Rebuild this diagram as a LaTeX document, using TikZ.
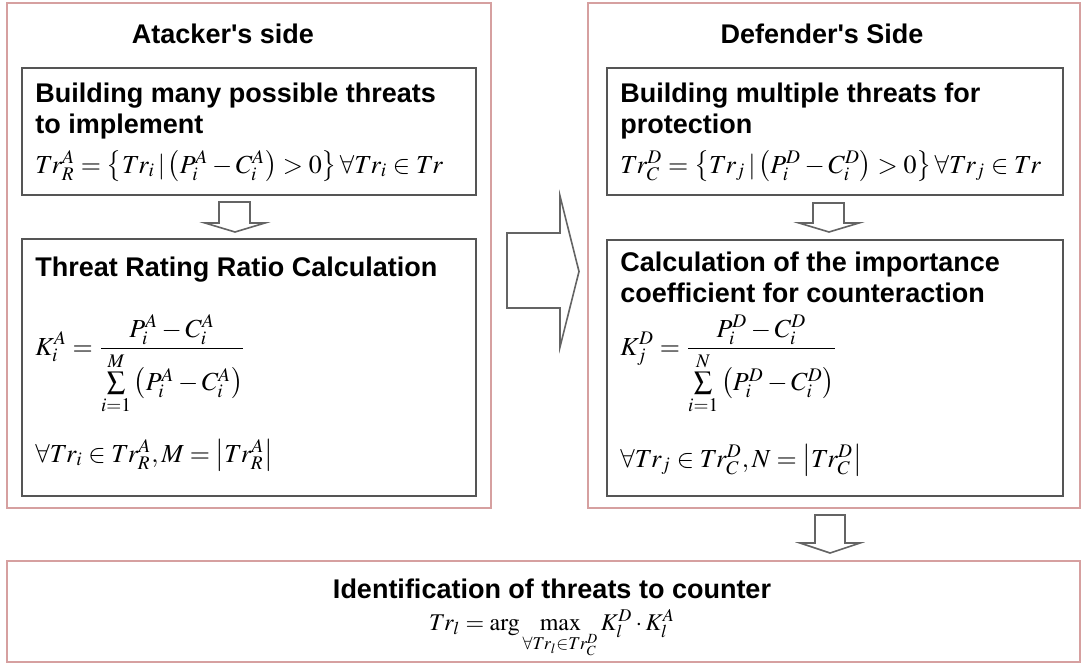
\documentclass[tikz,border=0pt]{standalone}
\usepackage{mathptmx}
\usepackage[no-math]{fontspec}
\setmainfont{Liberation Sans}
\definecolor{outerc}{RGB}{214,160,160}
\definecolor{innerc}{RGB}{85,85,85}
\definecolor{arrowc}{RGB}{100,100,100}
\tikzset{
  outerbox/.style={draw=outerc, line width=0.6pt},
  innerbox/.style={draw=innerc, line width=0.9pt},
  blockarrow/.style={draw=arrowc, fill=white, line width=0.8pt, line join=miter},
  heading/.style={inner sep=0pt, font=\bfseries\fontsize{13.5}{15.5}\selectfont},
  formula/.style={inner sep=0pt, font=\fontsize{13}{15}\selectfont},
}
\begin{document}
\begin{tikzpicture}[x=0.5pt,y=-0.5pt]
\path[fill=white] (0,0) rectangle (1084,666);
\useasboundingbox (0,0) rectangle (1084,666);
% outer boxes
\draw[outerbox] (7,3) rectangle (491,508);
\draw[outerbox] (588,3) rectangle (1080,508);
\draw[outerbox] (7,561) rectangle (1080,662);
% inner boxes
\draw[innerbox] (22,68) rectangle (476,195);
\draw[innerbox] (22,239) rectangle (476,496);
\draw[innerbox] (607,68) rectangle (1063,195);
\draw[innerbox] (607,240) rectangle (1063,496);
% titles
\node[heading, anchor=base] (tA) at (223,43) {Atacker\textquotesingle s side};
\node[heading, anchor=base] (tD) at (822,43) {Defender\textquotesingle s Side};
% left column
\node[heading, anchor=base west] (a1) at (35,102) {Building many possible threats};
\node[heading, anchor=base west] (a2) at (35,133) {to implement};
\node[formula, anchor=base west] (af1) at (35,173) {$Tr_R^A=\left\{Tr_i\,|\left(P_i^A-C_i^A\right)>0\right\}\forall Tr_i\in Tr$};
\node[heading, anchor=base west] (a3) at (35,276) {Threat Rating Ratio Calculation};
\node[formula, anchor=base west] (af2) at (35,355) {$\displaystyle K_i^A=\frac{P_i^A-C_i^A}{\sum\limits_{i=1}^{M}\left(P_i^A-C_i^A\right)}$};
\node[formula, anchor=base west] (af3) at (35,462) {$\forall Tr_i\in Tr_R^A,M=\left|Tr_R^A\right|$};
% right column
\node[heading, anchor=base west] (d1) at (620,102) {Building multiple threats for};
\node[heading, anchor=base west] (d2) at (620,133) {protection};
\node[formula, anchor=base west] (df1) at (620,173) {$Tr_C^D=\left\{Tr_j\,|\left(P_i^D-C_i^D\right)>0\right\}\forall Tr_j\in Tr$};
\node[heading, anchor=base west] (d3) at (620,271) {Calculation of the importance};
\node[heading, anchor=base west] (d4) at (620,302) {coefficient for counteraction};
\node[formula, anchor=base west] (df2) at (620,355) {$\displaystyle K_j^D=\frac{P_i^D-C_i^D}{\sum\limits_{i=1}^{N}\left(P_i^D-C_i^D\right)}$};
\node[formula, anchor=base west] (df3) at (620,467) {$\forall Tr_j\in Tr_C^D,N=\left|Tr_C^D\right|$};
% bottom
\node[heading, anchor=base] (b1) at (552,598) {Identification of threats to counter};
\node[formula, anchor=base, font=\fontsize{12}{14}\selectfont] (bf) at (552,630) {$Tr_l=\arg\max\limits_{\forall Tr_l\in Tr_C^D}K_l^D\cdot K_l^A$};
% block arrows
\draw[blockarrow] (219,202) -- (250,202) -- (250,223) -- (265,223) -- (235,232) -- (205,223) -- (219,223) -- cycle;
\draw[blockarrow] (813,203) -- (844,203) -- (844,223) -- (859,223) -- (829,232) -- (799,223) -- (813,223) -- cycle;
\draw[blockarrow] (507,233) -- (560,233) -- (560,196) -- (579,271.5) -- (560,347) -- (560,308) -- (507,308) -- cycle;
\draw[blockarrow] (815,515) -- (845,515) -- (845,543) -- (860,543) -- (830,553) -- (800,543) -- (815,543) -- cycle;
\end{tikzpicture}
\end{document}
